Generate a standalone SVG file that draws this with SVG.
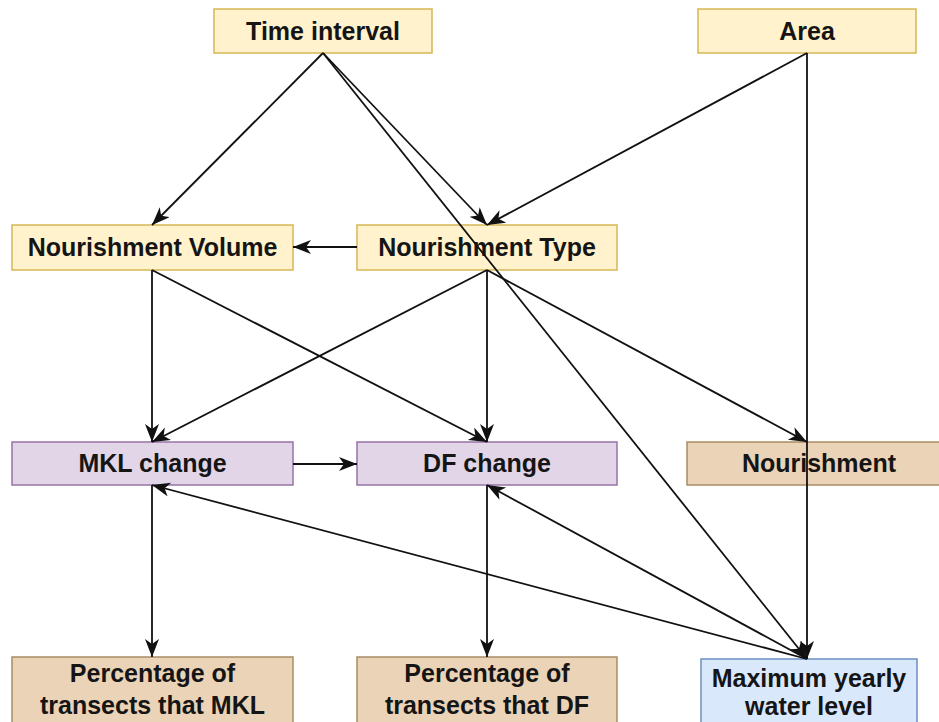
<svg xmlns="http://www.w3.org/2000/svg" width="939" height="722" viewBox="0 0 939 722">
<style>
.y{fill:#fff2cc;stroke:#d6b656;stroke-width:1.5}
.p{fill:#e1d5e7;stroke:#9673a6;stroke-width:1.5}
.o{fill:#ebd3b8;stroke:#a88d63;stroke-width:1.5}
.b{fill:#dae8fc;stroke:#6c8ebf;stroke-width:1.5}
text{font-family:"Liberation Sans",Arial,sans-serif;font-weight:bold;font-size:25px;fill:#151515;text-anchor:middle}
.e{fill:none;stroke:#111;stroke-width:1.8;marker-end:url(#a)}
</style>
<defs>
<marker id="a" markerUnits="userSpaceOnUse" markerWidth="20" markerHeight="16" refX="18" refY="7" orient="auto">
<path d="M0,0 L18,7 L0,14 L5,7 Z" fill="#111"/>
</marker>
</defs>
<rect width="939" height="722" fill="#fff"/>
<g id="time-interval"><rect class="y" x="214" y="9" width="218" height="44"/><text x="323" y="40">Time interval</text></g>
<g id="area"><rect class="y" x="698" y="9" width="218" height="44"/><text x="807" y="40">Area</text></g>
<g id="nourishment-volume"><rect class="y" x="12" y="225" width="281" height="45"/><text x="152.5" y="256">Nourishment Volume</text></g>
<g id="nourishment-type"><rect class="y" x="357" y="225" width="260" height="45"/><text x="487" y="256">Nourishment Type</text></g>
<g id="mkl-change"><rect class="p" x="12" y="442" width="281" height="43"/><text x="152.5" y="472">MKL change</text></g>
<g id="df-change"><rect class="p" x="357" y="442" width="260" height="43"/><text x="487" y="472">DF change</text></g>
<g id="nourishment"><rect class="o" x="687" y="442" width="264" height="43"/><text x="819" y="472">Nourishment</text></g>
<g id="pct-mkl"><rect class="o" x="12" y="657" width="281" height="80"/><text x="152.5" y="682">Percentage of</text><text x="152.5" y="714">transects that MKL</text></g>
<g id="pct-df"><rect class="o" x="357" y="657" width="260" height="80"/><text x="487" y="682">Percentage of</text><text x="487" y="714">transects that DF</text></g>
<g id="max-water"><rect class="b" x="701" y="659" width="216" height="80"/><text x="809" y="687">Maximum yearly</text><text x="809" y="715">water level</text></g>
<g id="connectors">
<path class="e" d="M323,53 L152,225"/>
<path class="e" d="M323,53 L487,225"/>
<path class="e" d="M323,53 L807,659"/>
<path class="e" d="M807,53 L487,225"/>
<path class="e" d="M807,53 L807,659"/>
<path class="e" d="M357,247 L293,247"/>
<path class="e" d="M152,270 L152,442"/>
<path class="e" d="M152,270 L487,442"/>
<path class="e" d="M487,270 L152,442"/>
<path class="e" d="M487,270 L487,442"/>
<path class="e" d="M487,270 L807,442"/>
<path class="e" d="M293,464 L357,464"/>
<path class="e" d="M152,485 L152,657"/>
<path class="e" d="M487,485 L487,657"/>
<path class="e" d="M807,659 L152,485"/>
<path class="e" d="M807,659 L487,485"/>
</g>
</svg>
